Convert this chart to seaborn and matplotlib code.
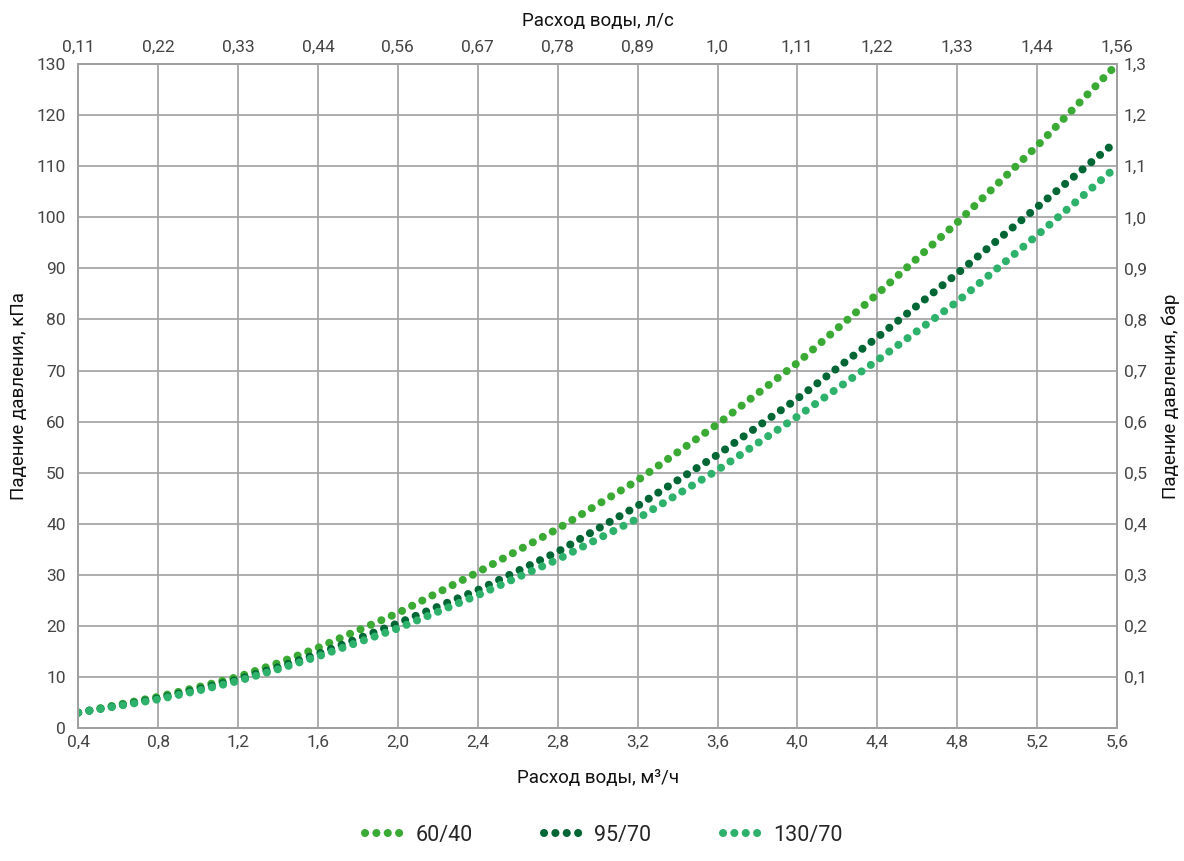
import numpy as np
import pandas as pd
import matplotlib
matplotlib.use("Agg")
import matplotlib.pyplot as plt
import seaborn as sns

# flow, m3/h
flow = [0.4, 0.8, 1.0, 1.2, 1.4, 1.6, 2.0, 2.4, 2.8, 3.2, 3.6, 4.0, 4.4, 4.8, 5.2, 5.6]
# pressure drop, kPa
dp_60_40 = [3.0, 6.1, 8.0, 10.0, 12.7, 15.7, 22.5, 30.5, 39.0, 48.5, 59.5, 71.5, 85.0, 99.0, 114.0, 130.0]
dp_95_70 = [3.0, 5.8, 7.6, 9.5, 11.9, 14.5, 20.5, 27.0, 34.5, 43.5, 53.5, 64.5, 76.5, 89.0, 102.0, 115.0]
dp_130_70 = [3.0, 5.6, 7.3, 9.2, 11.5, 14.0, 19.5, 26.0, 33.0, 41.0, 50.5, 61.0, 72.0, 83.5, 96.5, 110.0]

series_names = ["60/40", "95/70", "130/70"]
colors = ["#3aaa35", "#006633", "#2db16b"]

bottom_ticks = [0.4, 0.8, 1.2, 1.6, 2.0, 2.4, 2.8, 3.2, 3.6, 4.0, 4.4, 4.8, 5.2, 5.6]
bottom_labels = ["0,4", "0,8", "1,2", "1,6", "2,0", "2,4", "2,8", "3,2", "3,6", "4,0", "4,4", "4,8", "5,2", "5,6"]
top_labels = ["0,11", "0,22", "0,33", "0,44", "0,56", "0,67", "0,78", "0,89", "1,0", "1,11", "1,22", "1,33", "1,44", "1,56"]
left_ticks = list(range(0, 131, 10))
right_ticks = list(range(10, 131, 10))
right_labels = ["0,1", "0,2", "0,3", "0,4", "0,5", "0,6", "0,7", "0,8", "0,9", "1,0", "1,1", "1,2", "1,3"]

df = pd.DataFrame({
    "flow": flow * 3,
    "dp": dp_60_40 + dp_95_70 + dp_130_70,
    "series": [s for s in series_names for _ in flow],
})

sns.set_style("white")
plt.rcParams["font.family"] = ["Roboto", "DejaVu Sans"]
plt.rcParams["lines.dash_capstyle"] = "round"

dots = (0, (0.01, 1.4))

fig = plt.figure(figsize=(11.84, 8.61), dpi=100)
ax = fig.add_axes([0.066, 0.1545, 0.8775, 0.771])

sns.lineplot(data=df, x="flow", y="dp", hue="series", palette=colors,
             hue_order=series_names, ax=ax, linewidth=5.8, legend=False)
for ln in ax.get_lines():
    ln.set_linestyle(dots)

grid_col = "#a0a0a0"
ax.set_xlim(0.4, 5.6)
ax.set_ylim(0, 130)
ax.set_xticks(bottom_ticks)
ax.set_xticklabels(bottom_labels)
ax.set_yticks(left_ticks)
ax.grid(True, color=grid_col, linewidth=1.2)
ax.set_axisbelow(True)
for sp in ax.spines.values():
    sp.set_color(grid_col)
    sp.set_linewidth(1.2)
ax.tick_params(axis="x", length=0, labelsize=12.5, labelcolor="#444444", pad=5)
ax.tick_params(axis="y", length=0, labelsize=12.5, labelcolor="#444444", pad=9)
ax.set_xlabel("Расход воды, м³/ч", fontsize=13.5, color="#111111", labelpad=14)
ax.set_ylabel("Падение давления, кПа", fontsize=13.5, color="#111111", labelpad=6)

axt = ax.twiny()
axt.set_xlim(ax.get_xlim())
axt.set_xticks(bottom_ticks)
axt.set_xticklabels(top_labels)
axt.tick_params(length=0, labelsize=12.5, labelcolor="#444444", pad=7)
axt.set_xlabel("Расход воды, л/с", fontsize=13.5, color="#111111", labelpad=10)

axr = ax.twinx()
axr.set_ylim(ax.get_ylim())
axr.set_yticks(right_ticks)
axr.set_yticklabels(right_labels)
axr.tick_params(length=0, labelsize=12.5, labelcolor="#444444", pad=5)
axr.set_ylabel("Падение давления, бар", fontsize=13.5, color="#111111", labelpad=10)
for a in (axt, axr):
    for sp in a.spines.values():
        sp.set_color(grid_col)
        sp.set_linewidth(1.2)

handles = [plt.Line2D([0], [0], color=c, linewidth=5.8, linestyle=dots)
           for c in colors]
fig.legend(handles, series_names, loc="lower center", bbox_to_anchor=(0.51, -0.005),
           ncol=3, frameon=False, fontsize=15.5, handlelength=1.75, columnspacing=3.3,
           handletextpad=0.6)

fig.savefig("out.png", dpi=100)
